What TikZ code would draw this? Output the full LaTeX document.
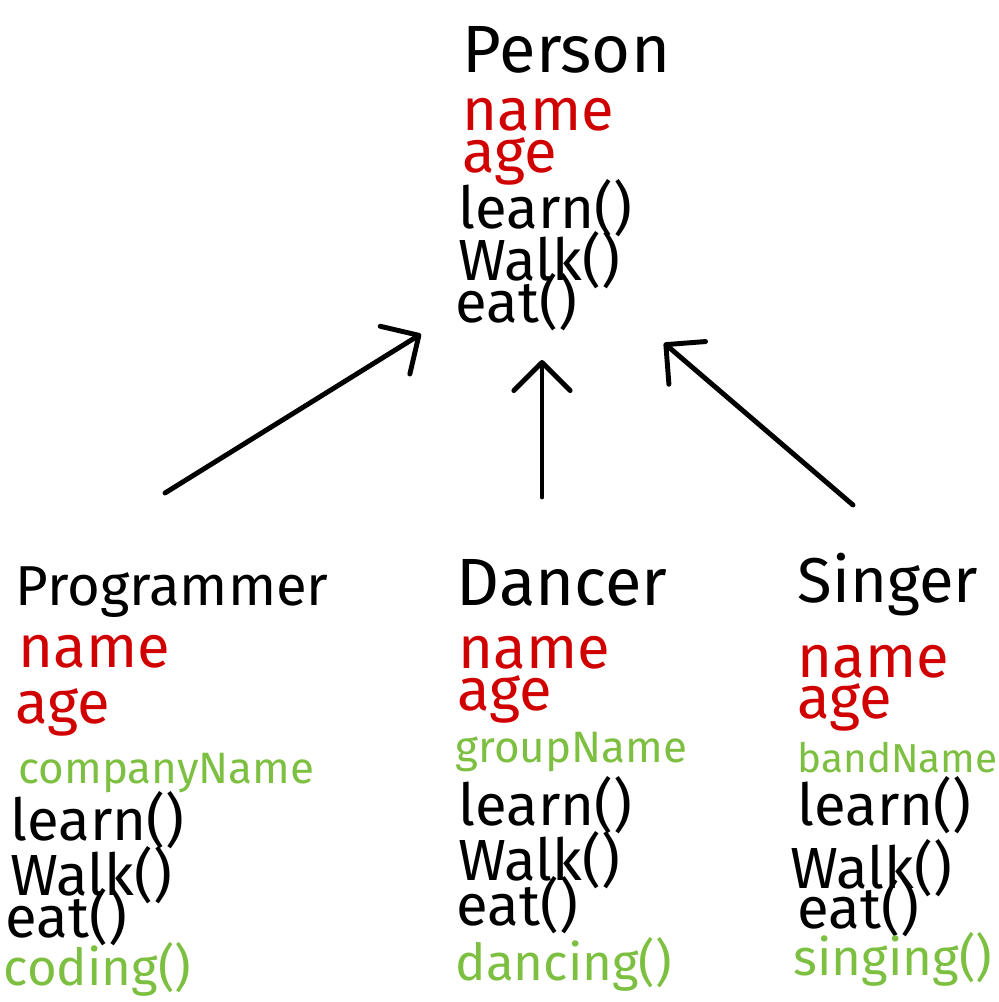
\documentclass[tikz,border=0pt]{standalone}
\usepackage{fontspec}
\setmainfont{Fira Sans}
\usetikzlibrary{arrows.meta}
\definecolor{attrred}{RGB}{208,0,0}
\definecolor{newgreen}{RGB}{125,192,65}
\tikzset{
  title/.style={anchor=base west,inner sep=0pt,font=\fontsize{19}{22}\selectfont},
  attr/.style={anchor=base west,inner sep=0pt,text=attrred,font=\fontsize{17}{20}\selectfont},
  meth/.style={anchor=base west,inner sep=0pt,font=\fontsize{16.5}{19}\selectfont},
  extra/.style={anchor=base west,inner sep=0pt,text=newgreen,font=\fontsize{12.5}{15}\selectfont},
  extrameth/.style={anchor=base west,inner sep=0pt,text=newgreen,font=\fontsize{14.5}{17}\selectfont},
  inherit/.style={line width=1.4pt,line cap=round,
    -{Straight Barb[length=8pt,width=16pt,round]}}
}
\begin{document}
\begin{tikzpicture}[x=0.01cm,y=-0.01cm]
  \useasboundingbox (0,0) rectangle (999,1002);
  % base class
  \node[title] (person) at (462,72) {Person};
  \node[attr] (pname) at (462,130) {name};
  \node[attr] (page) at (462,172) {age};
  \node[meth] (plearn) at (458,228) {learn()};
  \node[meth] (pwalk) at (458,280) {Walk()};
  \node[meth] (peat) at (455,322) {eat()};
  % programmer
  \node[title,font=\fontsize{16}{19}\selectfont] (prog) at (15,605) {Programmer};
  \node[attr] (gname) at (18,667) {name};
  \node[attr] (gage) at (15,723) {age};
  \node[extra] (gcompany) at (18,783) {companyName};
  \node[meth] (glearn) at (10,840) {learn()};
  \node[meth] (gwalk) at (10,895) {Walk()};
  \node[meth] (geat) at (5,937) {eat()};
  \node[extrameth] (gcoding) at (3,985) {coding()};
  % dancer
  \node[title] (dancer) at (456,605) {Dancer};
  \node[attr] (dname) at (458,668) {name};
  \node[attr] (dage) at (457,710) {age};
  \node[extra] (dgroup) at (455,762) {groupName};
  \node[meth] (dlearn) at (458,825) {learn()};
  \node[meth] (dwalk) at (458,880) {Walk()};
  \node[meth] (deat) at (456,925) {eat()};
  \node[extrameth] (ddancing) at (455,980) {dancing()};
  % singer
  \node[title,font=\fontsize{18}{21}\selectfont] (singer) at (797,602) {Singer};
  \node[attr] (sname) at (797,677) {name};
  \node[attr] (sage) at (797,718) {age};
  \node[extra,font=\fontsize{11.5}{14}\selectfont] (sband) at (797,772) {bandName};
  \node[meth] (slearn) at (797,825) {learn()};
  \node[meth] (swalk) at (790,888) {Walk()};
  \node[meth] (seat) at (797,928) {eat()};
  \node[extrameth] (ssinging) at (793,975) {singing()};
  % inheritance arrows
  \coordinate (progtop) at (165,493);
  \coordinate (dancertop) at (542,497);
  \coordinate (singertop) at (853,505);
  \coordinate (personleft) at (421,334);
  \coordinate (personmid) at (542,360);
  \coordinate (personright) at (664,343);
  \draw[inherit] (progtop) -- (personleft);
  \draw[inherit] (dancertop) -- (personmid);
  \draw[inherit] (singertop) -- (personright);
\end{tikzpicture}
\end{document}
